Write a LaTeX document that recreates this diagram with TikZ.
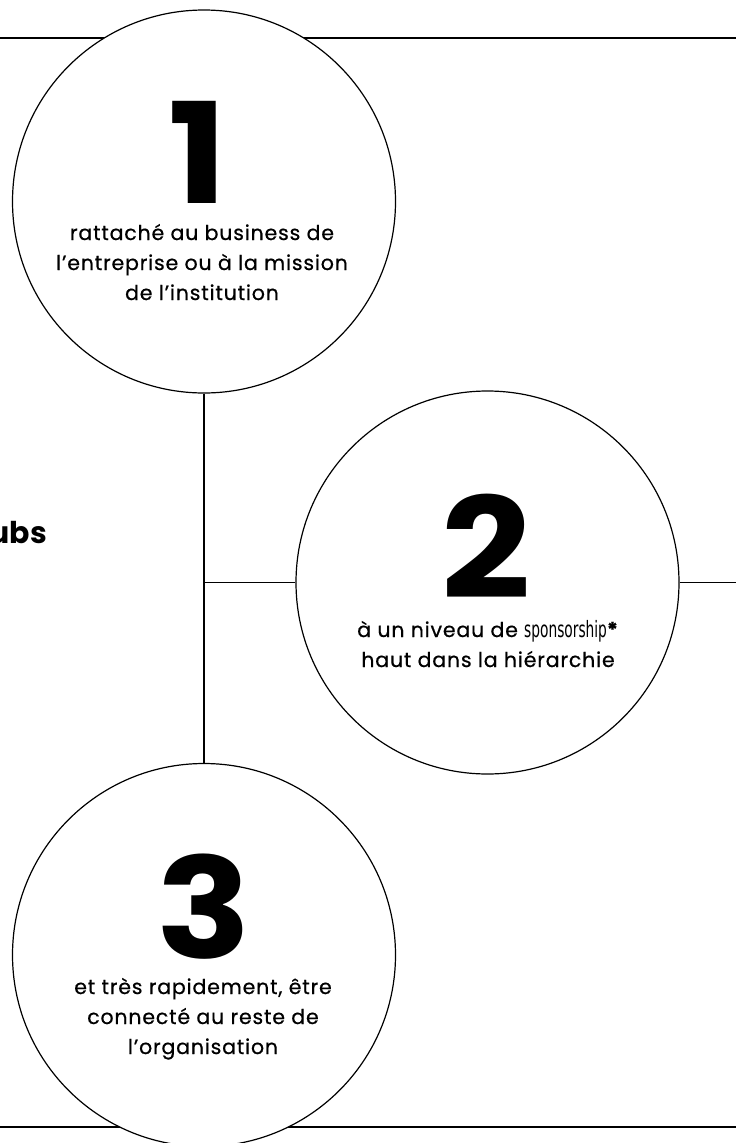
\documentclass[tikz,border=0pt]{standalone}
\usepackage{fontspec}
\setmainfont{Poppins}
\newfontfamily\condfont[FakeStretch=0.68]{DejaVu Sans Condensed}
\newfontfamily\numfont[FakeStretch=1.12]{Poppins}
\newfontfamily\bodyfont[FakeBold=0.6, LetterSpace=4]{Poppins}
\usetikzlibrary{positioning,backgrounds}

\tikzset{
  stage/.style={circle, draw, line width=1.2pt, fill=white, minimum size=383pt, inner sep=0pt},
  bignum/.style={font=\numfont\fontsize{140}{140}\selectfont\bfseries, anchor=base, inner sep=0pt},
  stagetext/.style={font=\bodyfont\fontsize{20.5}{30}\selectfont, align=center, anchor=base, inner sep=0pt},
  rule/.style={line width=1.2pt}
}

\begin{document}
\begin{tikzpicture}[x=1pt, y=-1pt]
  \useasboundingbox (0,0) rectangle (736,1143);

  % Cercles
  \node[stage] (c1) at (204,201.5) {};
  \node[stage] (c2) at (487.5,582.5) {};
  \node[stage] (c3) at (204,955) {};

  % Chiffres
  \node[bignum] (n1) at (198,203) {1};
  \node[bignum] (n2) at (486,598) {2};
  \node[bignum] (n3) at (204,958) {3};

  % Textes (ancre sur la derniere ligne)
  \node[stagetext] (t1) at (202,300) {rattaché au business de\\l’entreprise ou à la mission\\de l’institution};
  \node[stagetext] (t2) at (488,667) {à un niveau de {\condfont\fontsize{22.5}{30}\selectfont sponsorship}\textbf{*}\\haut dans la hiérarchie};
  \node[stagetext] (t3) at (203,1054) {et très rapidement, être\\connecté au reste de\\l’organisation};
  \node[font=\fontsize{30}{30}\selectfont\bfseries, anchor=base east, inner sep=0pt] (hubs) at (47,543) {ubs};

  % Lignes
  \begin{scope}[on background layer]
    \coordinate (tl) at (0,38);
    \coordinate (tr) at (736,38);
    \coordinate (bl) at (0,1127);
    \coordinate (br) at (736,1127);
    \coordinate (re) at (736,582.5);
    \coordinate (j) at (c1.south |- c2.west);
    \draw[rule] (tl) -- (tr);
    \draw[rule] (bl) -- (br);
    \draw[rule] (c1.south) -- (c3.north);
    \draw[rule] (j) -- (c2.west);
    \draw[rule] (c2.east) -- (re);
  \end{scope}
\end{tikzpicture}
\end{document}
